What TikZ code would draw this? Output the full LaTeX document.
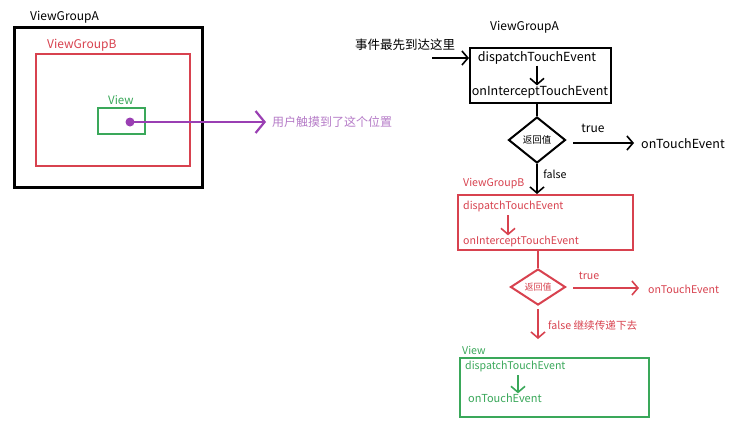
\documentclass[tikz,border=0pt]{standalone}
\usepackage{fontspec}
\setmainfont{Noto Sans CJK SC}
\usetikzlibrary{arrows.meta,shapes.geometric,calc}
\definecolor{cred}{HTML}{D8424F}
\definecolor{cgreen}{HTML}{3AA85A}
\definecolor{cpurple}{HTML}{9A3FB3}
\definecolor{cpurpletxt}{HTML}{B67CC8}
\tikzset{
  box/.style={draw, rectangle, inner sep=0pt},
  lbl/.style={inner sep=0pt},
  bigtxt/.style={lbl, font=\fontsize{12.5}{14}\selectfont},
  midtxt/.style={lbl, font=\fontsize{12}{14}\selectfont},
  smalltxt/.style={lbl, font=\fontsize{10.6}{12}\selectfont},
  barb/.style={-{Straight Barb[length=6pt,width=14pt,line width=1.6pt]}},
  dia/.style={draw, diamond, inner sep=0pt},
}
\begin{document}
\begin{tikzpicture}[x=1pt,y=-1pt]
\useasboundingbox[fill=white] (0,0) rectangle (748,424);
% ---------- left picture ----------
\node[midtxt, anchor=west] (lA) at (30,17) {ViewGroupA};
\node[box, line width=3pt, minimum width=188pt, minimum height=160pt] (lboxA) at (108,107) {};
\node[midtxt, anchor=west, text=cred] (lB) at (47,45) {ViewGroupB};
\node[box, cred, line width=2.5pt, minimum width=154pt, minimum height=112pt] (lboxB) at (113,110) {};
\node[lbl, font=\fontsize{11.5}{13}\selectfont, anchor=west, text=cgreen] (lV) at (108,100) {View};
\node[box, cgreen, line width=2.5pt, minimum width=47pt, minimum height=26pt] (lboxV) at (121.5,121) {};
\node[circle, fill=cpurple, minimum size=9pt, inner sep=0pt] (dot) at (130,122) {};
\node[midtxt, anchor=west, text=cpurpletxt] (touch) at (272,122) {用户触摸到了这个位置};
\draw[cpurple, line width=2.2pt, -{Straight Barb[length=9pt,width=22pt,line width=2.2pt]}, shorten >=6pt] (dot.center) -- (touch.west);
% ---------- right: ViewGroupA ----------
\node[midtxt, anchor=west] (rA) at (490,27) {ViewGroupA};
\node[lbl, font=\fontsize{12.5}{14}\selectfont, anchor=west] (first) at (355,45) {事件最先到达这里};
\node[box, line width=2pt, minimum width=141pt, minimum height=55pt] (boxA) at (540.5,75.5) {};
\node[bigtxt] (dA) at (537,58) {dispatchTouchEvent};
\node[bigtxt] (iA) at (540,92) {onInterceptTouchEvent};
\coordinate (inA) at (432,58);
\draw[line width=1.6pt, barb] (inA) -- (boxA.west |- inA);
\draw[line width=1.6pt, barb] ([yshift=-1pt]dA.south) -- (iA.north -| dA.south);
\node[dia, line width=2pt, minimum width=57pt, minimum height=46pt, font=\fontsize{9.5}{11}\selectfont] (dmA) at (537,140) {返回值};
\draw[line width=2pt] (boxA.south -| dmA.north) -- (dmA.north);
\node[bigtxt, anchor=west] (otA) at (641,144) {onTouchEvent};
\coordinate (tA) at (573,143);
\draw[line width=1.6pt, barb, shorten >=7pt] (tA) -- (otA.west |- tA);
\node[midtxt] (trueA) at (593,128) {true};
% ---------- ViewGroupB ----------
\node[box, cred, line width=2pt, minimum width=175pt, minimum height=55pt] (boxB) at (545.5,222.5) {};
\draw[line width=1.6pt, barb] (dmA.south) -- (boxB.north -| dmA.south);
\node[smalltxt] (falseA) at (555,174) {false};
\node[smalltxt, anchor=west, text=cred] (lbB) at (463,184) {ViewGroupB};
\node[smalltxt, anchor=west, text=cred] (dB) at (463,206) {dispatchTouchEvent};
\node[smalltxt, anchor=west, text=cred] (iB) at (463,241) {onInterceptTouchEvent};
\coordinate (aB) at (508,215);
\draw[cred, line width=1.6pt, barb] (aB) -- (aB |- iB.north);
\node[dia, cred, line width=2pt, minimum width=55pt, minimum height=36pt, font=\fontsize{9}{10}\selectfont] (dmB) at (538,287) {返回值};
\draw[cred, line width=2pt] (boxB.south -| dmB.north) -- (dmB.north);
\node[smalltxt, anchor=west, text=cred] (otB) at (648,289) {onTouchEvent};
\coordinate (tB) at (573,288);
\draw[cred, line width=1.6pt, barb, shorten >=9pt] (tB) -- (otB.west |- tB);
\node[smalltxt, text=cred] (trueB) at (589,276) {true};
% ---------- View ----------
\node[box, cgreen, line width=2pt, minimum width=189pt, minimum height=59pt] (boxC) at (554.5,387.5) {};
\coordinate (fB) at (538,309);
\draw[cred, line width=1.6pt, barb, shorten >=18pt] (fB) -- (boxC.north -| fB);
\node[smalltxt, anchor=west, text=cred] (falseB) at (548,325) {false 继续传递下去};
\node[smalltxt, anchor=west, text=cgreen] (lbC) at (462,350) {View};
\node[smalltxt, anchor=west, text=cgreen] (dC) at (465,366) {dispatchTouchEvent};
\node[lbl, font=\fontsize{11}{12}\selectfont, anchor=west, text=cgreen] (oC) at (468,398) {onTouchEvent};
\coordinate (aC) at (518,375);
\draw[cgreen, line width=1.6pt, barb] (aC) -- (aC |- oC.north);
\end{tikzpicture}
\end{document}
